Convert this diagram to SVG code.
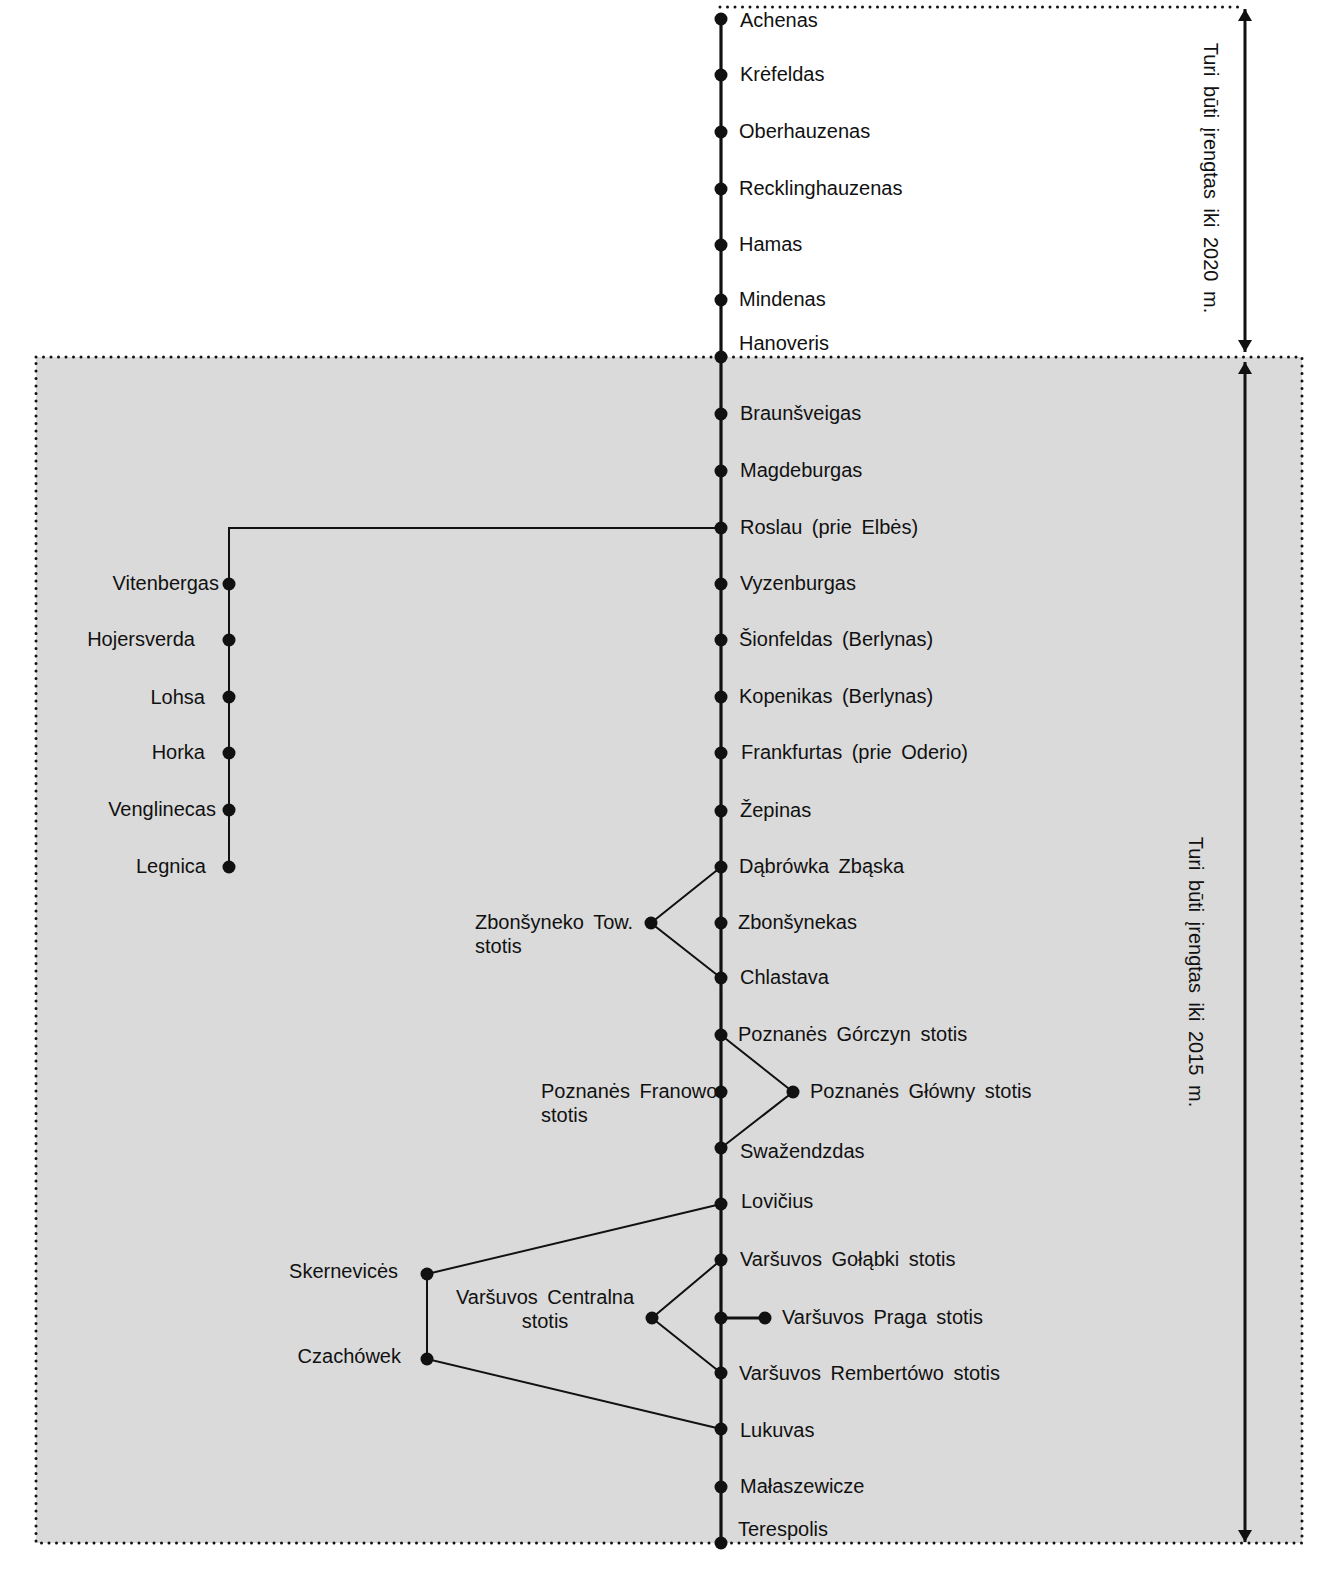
<svg xmlns="http://www.w3.org/2000/svg" width="1327" height="1575" viewBox="0 0 1327 1575">
<style>
text{font-family:"Liberation Sans",Arial,sans-serif;font-size:20px;fill:#111;word-spacing:4px}
.r{text-anchor:end}
.m{text-anchor:middle}
.dot{fill:#111}
.main{stroke:#111;stroke-width:3.2;fill:none}
.br{stroke:#111;stroke-width:2;fill:none}
.dotted{stroke:#111;stroke-width:3;stroke-linecap:round;stroke-dasharray:0 7.5;fill:none}
.arr{stroke:#111;stroke-width:3;fill:none}
</style>
<defs>
<marker id="ah" viewBox="0 0 12 16" refX="12" refY="8" markerWidth="12" markerHeight="16" markerUnits="userSpaceOnUse" orient="auto-start-reverse">
<path d="M0,1 L12,8 L0,15 Z" fill="#111"/>
</marker>
</defs>
<g id="zones">
<rect x="36" y="357" width="1266" height="1186" fill="#dadada"/>
<rect class="dotted" x="36" y="357" width="1266" height="1186"/>
<line class="dotted" x1="720" y1="7" x2="1245" y2="7"/>
</g>
<g id="connectors">
<line class="main" x1="721" y1="19" x2="721" y2="1543"/>
<polyline class="br" points="721,528 229,528 229,867"/>
<polyline class="br" points="721,867 651,923 721,978"/>
<polyline class="br" points="721,1035 793,1092 721,1148"/>
<polyline class="br" points="721,1204 427,1274 427,1359 721,1429"/>
<polyline class="br" points="721,1260 652,1318 721,1373"/>
<line class="main" x1="721" y1="1318" x2="765" y2="1318"/>
<line class="arr" x1="1245" y1="9" x2="1245" y2="352" marker-start="url(#ah)" marker-end="url(#ah)"/>
<line class="arr" x1="1245" y1="362" x2="1245" y2="1542" marker-start="url(#ah)" marker-end="url(#ah)"/>
</g>
<g id="n-achenas"><circle class="dot" cx="721" cy="19" r="6.5"/><text x="740" y="27">Achenas</text></g>
<g id="n-krefeldas"><circle class="dot" cx="721" cy="75" r="6.5"/><text x="740" y="81">Krėfeldas</text></g>
<g id="n-oberhauzenas"><circle class="dot" cx="721" cy="132" r="6.5"/><text x="739" y="138">Oberhauzenas</text></g>
<g id="n-recklinghauzenas"><circle class="dot" cx="721" cy="189" r="6.5"/><text x="739" y="195">Recklinghauzenas</text></g>
<g id="n-hamas"><circle class="dot" cx="721" cy="245" r="6.5"/><text x="739" y="251">Hamas</text></g>
<g id="n-mindenas"><circle class="dot" cx="721" cy="300" r="6.5"/><text x="739" y="306">Mindenas</text></g>
<g id="n-hanoveris"><circle class="dot" cx="721" cy="357" r="6.5"/><text x="739" y="350">Hanoveris</text></g>
<g id="n-braunsveigas"><circle class="dot" cx="721" cy="414" r="6.5"/><text x="740" y="420">Braunšveigas</text></g>
<g id="n-magdeburgas"><circle class="dot" cx="721" cy="471" r="6.5"/><text x="740" y="477">Magdeburgas</text></g>
<g id="n-roslau"><circle class="dot" cx="721" cy="528" r="6.5"/><text x="740" y="534">Roslau (prie Elbės)</text></g>
<g id="n-vyzenburgas"><circle class="dot" cx="721" cy="584" r="6.5"/><text x="740" y="590">Vyzenburgas</text></g>
<g id="n-sionfeldas"><circle class="dot" cx="721" cy="640" r="6.5"/><text x="739" y="646">Šionfeldas (Berlynas)</text></g>
<g id="n-kopenikas"><circle class="dot" cx="721" cy="697" r="6.5"/><text x="739" y="703">Kopenikas (Berlynas)</text></g>
<g id="n-frankfurtas"><circle class="dot" cx="721" cy="753" r="6.5"/><text x="741" y="759">Frankfurtas (prie Oderio)</text></g>
<g id="n-zepinas"><circle class="dot" cx="721" cy="811" r="6.5"/><text x="740" y="817">Žepinas</text></g>
<g id="n-dabrowka"><circle class="dot" cx="721" cy="867" r="6.5"/><text x="739" y="873">Dąbrówka Zbąska</text></g>
<g id="n-zbonsynekas"><circle class="dot" cx="721" cy="923" r="6.5"/><text x="738" y="929">Zbonšynekas</text></g>
<g id="n-chlastava"><circle class="dot" cx="721" cy="978" r="6.5"/><text x="740" y="984">Chlastava</text></g>
<g id="n-gorczyn"><circle class="dot" cx="721" cy="1035" r="6.5"/><text x="738" y="1041">Poznanės Górczyn stotis</text></g>
<g id="n-franowo"><circle class="dot" cx="721" cy="1092" r="6.5"/><text x="541" y="1098">Poznanės Franowo</text><text x="541" y="1122">stotis</text></g>
<g id="n-swazendzdas"><circle class="dot" cx="721" cy="1148" r="6.5"/><text x="740" y="1158">Swažendzdas</text></g>
<g id="n-lovicius"><circle class="dot" cx="721" cy="1204" r="6.5"/><text x="741" y="1208">Lovičius</text></g>
<g id="n-golabki"><circle class="dot" cx="721" cy="1260" r="6.5"/><text x="740" y="1266">Varšuvos Gołąbki stotis</text></g>
<g id="n-praga-main"><circle class="dot" cx="721" cy="1318" r="6.5"/></g>
<g id="n-praga"><circle class="dot" cx="765" cy="1318" r="6.5"/><text x="782" y="1324">Varšuvos Praga stotis</text></g>
<g id="n-rembertowo"><circle class="dot" cx="721" cy="1373" r="6.5"/><text x="739" y="1380">Varšuvos Rembertówo stotis</text></g>
<g id="n-lukuvas"><circle class="dot" cx="721" cy="1429" r="6.5"/><text x="740" y="1437">Lukuvas</text></g>
<g id="n-malaszewicze"><circle class="dot" cx="721" cy="1487" r="6.5"/><text x="740" y="1493">Małaszewicze</text></g>
<g id="n-terespolis"><circle class="dot" cx="721" cy="1543" r="6.5"/><text x="738" y="1536">Terespolis</text></g>
<g id="n-vitenbergas"><circle class="dot" cx="229" cy="584" r="6.5"/><text class="r" x="219" y="590">Vitenbergas</text></g>
<g id="n-hojersverda"><circle class="dot" cx="229" cy="640" r="6.5"/><text class="r" x="195" y="646">Hojersverda</text></g>
<g id="n-lohsa"><circle class="dot" cx="229" cy="697" r="6.5"/><text class="r" x="205" y="704">Lohsa</text></g>
<g id="n-horka"><circle class="dot" cx="229" cy="753" r="6.5"/><text class="r" x="205" y="759">Horka</text></g>
<g id="n-venglinecas"><circle class="dot" cx="229" cy="810" r="6.5"/><text class="r" x="216" y="816">Venglinecas</text></g>
<g id="n-legnica"><circle class="dot" cx="229" cy="867" r="6.5"/><text class="r" x="206" y="873">Legnica</text></g>
<g id="n-zbonsyneko-tow"><circle class="dot" cx="651" cy="923" r="6.5"/><text x="475" y="929">Zbonšyneko Tow.</text><text x="475" y="953">stotis</text></g>
<g id="n-glowny"><circle class="dot" cx="793" cy="1092" r="6.5"/><text x="810" y="1098">Poznanės Główny stotis</text></g>
<g id="n-skernevices"><circle class="dot" cx="427" cy="1274" r="6.5"/><text class="r" x="398" y="1278">Skernevicės</text></g>
<g id="n-czachowek"><circle class="dot" cx="427" cy="1359" r="6.5"/><text class="r" x="401" y="1363">Czachówek</text></g>
<g id="n-centralna"><circle class="dot" cx="652" cy="1318" r="6.5"/><text class="m" x="545" y="1304">Varšuvos Centralna</text><text class="m" x="545" y="1328">stotis</text></g>
<g id="labels">
<text class="m" transform="translate(1204,178) rotate(90)">Turi būti įrengtas iki 2020 m.</text>
<text class="m" transform="translate(1189,972) rotate(90)">Turi būti įrengtas iki 2015 m.</text>
</g>
</svg>
